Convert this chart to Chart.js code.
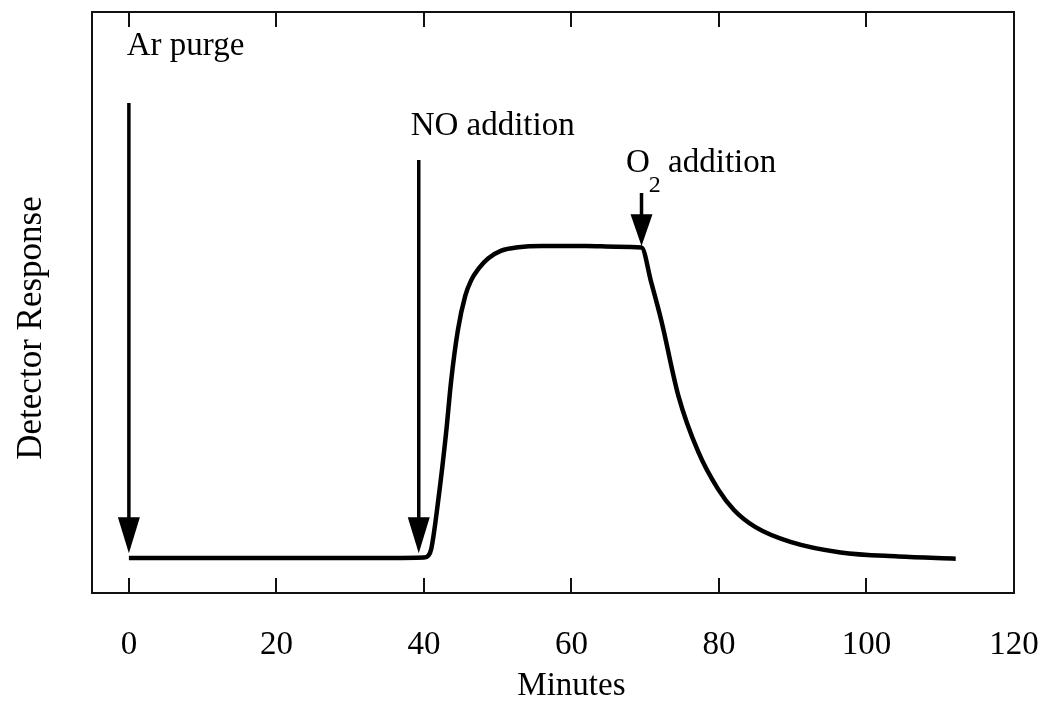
<!DOCTYPE html>
<html>
<head>
<meta charset="utf-8">
<script src="https://cdn.jsdelivr.net/npm/chart.js@4"></script>
<style>
  body { margin: 0; background: #fff; }
  #wrap { width: 1046px; height: 702px; position: relative; }
</style>
</head>
<body>
<div id="wrap"><canvas id="detector"></canvas></div>
<script>
// curve (minutes, detector response in arbitrary units; plateau ~ 100)
const minutes  = [0, 10, 20, 30, 40, 40.6, 41.0, 42.0, 43.0, 43.7, 44.6, 45.6, 46.4, 47.5, 48.7, 50.5, 52.8, 56, 62, 66, 69.5, 70.8, 72.2, 74.5, 77.2, 79.9, 82, 84.9, 89.8, 96.5, 104.3, 112.1];
const response = [0, 0, 0, 0, 0.2, 0.8, 3, 19.6, 40, 57, 73, 84, 89, 93, 96, 98.5, 99.6, 100, 100, 99.8, 99.5, 88.5, 76, 52, 34, 22, 15.5, 10, 5.1, 1.8, 0.5, -0.2];

const xTicks = [0, 20, 40, 60, 80, 100, 120];

// event arrows: x position, top of shaft, tip
const arrowX   = [0, 39.3, 69.5];
const arrowTop = [145.8, 127.6, 117];
const arrowTip = [1.5, 1.5, 100];

// labels over the arrows (x = left edge, y = baseline, both in data units)
const labelText = ['Ar purge', 'NO addition', 'O|2| addition'];
const labelX    = [-0.3, 38.2, 67.4];
const labelY    = [161.2, 135.6, 123.6];

const SERIF = '"Liberation Serif", "DejaVu Serif", serif';

const annotations = {
    id: 'annotations',
    afterDatasetsDraw(chart) {
        const ctx = chart.ctx;
        const xs = chart.scales.x, ys = chart.scales.y;
        ctx.save();
        ctx.fillStyle = '#000';
        ctx.strokeStyle = '#000';

        // arrows
        arrowX.forEach((v, i) => {
            const px = xs.getPixelForValue(v);
            const top = ys.getPixelForValue(arrowTop[i]);
            const tip = ys.getPixelForValue(arrowTip[i]);
            const headLen = Math.min(36, (tip - top) * 0.6);
            ctx.lineWidth = 3.5;
            ctx.beginPath();
            ctx.moveTo(px, top);
            ctx.lineTo(px, tip - headLen + 2);
            ctx.stroke();
            ctx.beginPath();
            ctx.moveTo(px - 11, tip - headLen);
            ctx.lineTo(px + 11, tip - headLen);
            ctx.lineTo(px, tip);
            ctx.closePath();
            ctx.fill();
        });

        // labels, '|' marks a subscript part
        ctx.textBaseline = 'alphabetic';
        ctx.textAlign = 'left';
        labelText.forEach((t, i) => {
            let px = xs.getPixelForValue(labelX[i]);
            const py = ys.getPixelForValue(labelY[i]);
            t.split('|').forEach((part, k) => {
                const sub = k % 2 === 1;
                ctx.font = (sub ? '24px ' : '33px ') + SERIF;
                ctx.fillText(part, px, sub ? py + 20 : py);
                px += ctx.measureText(part).width - 1;
            });
        });

        // axis titles
        ctx.font = '33px ' + SERIF;
        ctx.textAlign = 'center';
        ctx.textBaseline = 'middle';
        ctx.fillText('Minutes', xs.getPixelForValue(60), 686);
        ctx.translate(32, 328);
        ctx.rotate(-Math.PI / 2);
        ctx.font = '35px ' + SERIF;
        ctx.fillText('Detector Response', 0, 0);
        ctx.restore();
    }
};

const noPad = scale => { scale.paddingLeft = 0; scale.paddingRight = 0; };

const ctx = document.getElementById('detector').getContext('2d');
new Chart(ctx, {
    type: 'line',
    data: {
        datasets: [{
            data: minutes.map((m, i) => ({ x: m, y: response[i] })),
            borderColor: '#000',
            borderWidth: 4.5,
            pointRadius: 0,
            cubicInterpolationMode: 'monotone',
            fill: false
        }]
    },
    options: {
        responsive: true,
        maintainAspectRatio: false,
        animation: false,
        layout: { padding: { top: 12, right: 32, left: 0, bottom: 0 } },
        plugins: { legend: { display: false }, tooltip: { enabled: false } },
        scales: {
            x: {
                type: 'linear',
                position: 'bottom',
                min: -5,
                max: 120,
                afterBuildTicks: scale => { scale.ticks = xTicks.map(v => ({ value: v })); },
                afterFit: scale => { scale.height = 109; noPad(scale); },
                grid: { drawOnChartArea: false, tickLength: -15, lineWidth: 2, color: '#111' },
                border: { display: true, width: 2, color: '#111' },
                ticks: {
                    color: '#000',
                    padding: 48,
                    maxRotation: 0,
                    autoSkip: false,
                    font: { family: SERIF, size: 33, lineHeight: 1.2 }
                }
            },
            xTop: {
                type: 'linear',
                position: 'top',
                min: -5,
                max: 120,
                afterBuildTicks: scale => { scale.ticks = xTicks.map(v => ({ value: v })); },
                afterFit: scale => { scale.height = 0; noPad(scale); },
                grid: { drawOnChartArea: false, tickLength: -15, lineWidth: 2, color: '#111' },
                border: { display: true, width: 2, color: '#111' },
                ticks: { display: false }
            },
            y: {
                type: 'linear',
                position: 'left',
                min: -11.2,
                max: 175,
                afterFit: scale => { scale.width = 92; },
                grid: { display: false },
                border: { display: true, width: 2, color: '#111' },
                ticks: { display: false }
            },
            yRight: {
                type: 'linear',
                position: 'right',
                min: -11.2,
                max: 175,
                afterFit: scale => { scale.width = 0; },
                grid: { display: false },
                border: { display: true, width: 2, color: '#111' },
                ticks: { display: false }
            }
        }
    },
    plugins: [annotations]
});
</script>
</body>
</html>
